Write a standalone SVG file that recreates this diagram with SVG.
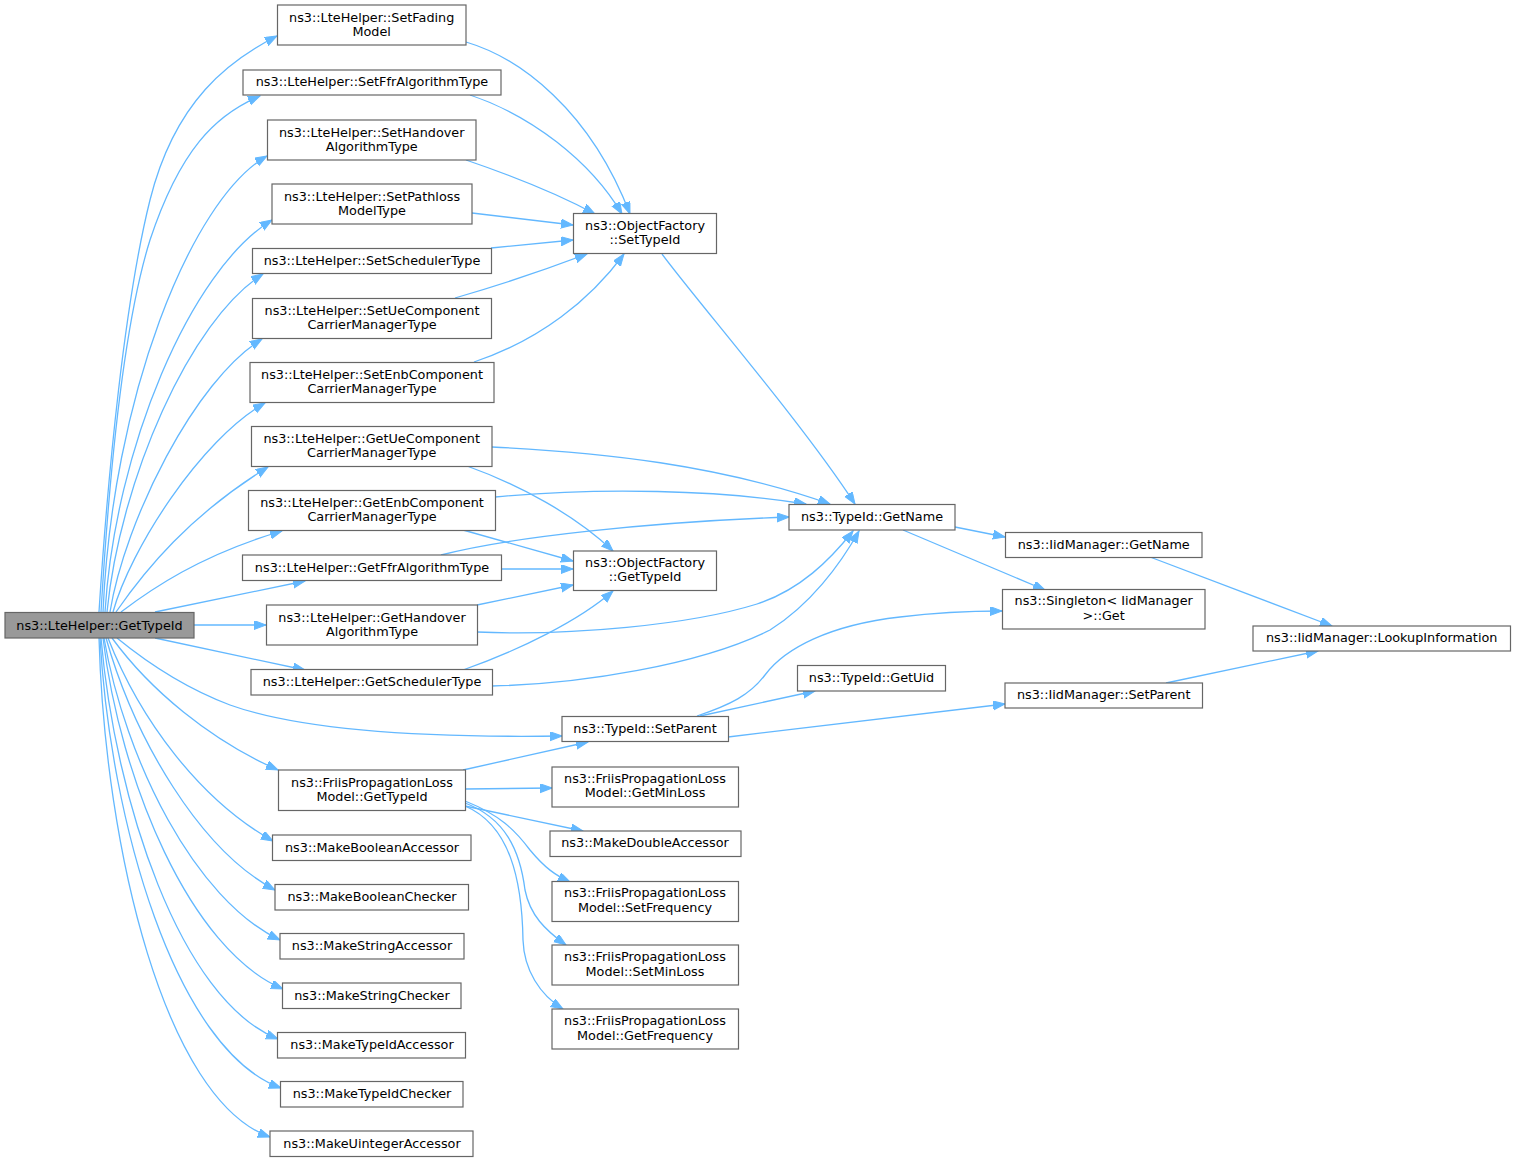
<svg xmlns="http://www.w3.org/2000/svg" width="1516" height="1162" viewBox="0 0 1516 1162">
<style>
.n rect{fill:#ffffff;stroke:#666666;stroke-width:1.2}
.r rect{fill:#999999;stroke:#666666;stroke-width:1.2}
text{font-family:"DejaVu Sans","Liberation Sans",sans-serif;font-size:12.8px;fill:#000000;text-anchor:middle}
#edges path{fill:none;stroke:#63b8ff;stroke-width:1.3;marker-end:url(#a)}
</style>
<defs>
<marker id="a" markerUnits="userSpaceOnUse" markerWidth="13" markerHeight="10" refX="12" refY="4.5" orient="auto">
<path d="M0,0 L12,4.5 L0,9 Z" fill="#63b8ff" stroke="#63b8ff" stroke-width="1"/>
</marker>
</defs>
<rect width="1516" height="1162" fill="#ffffff"/>
<g id="edges">
<path d="M99,612 C108,470 125,300 150,200 C175,100 230,60 277,36"/>
<path d="M101,612 C110,460 125,320 150,240 C180,150 215,115 260,96"/>
<path d="M103,612 C112,400 190,200 267,156"/>
<path d="M105,612 C115,450 190,270 272,220"/>
<path d="M107,612 C120,480 190,320 263,274"/>
<path d="M110,612 C125,520 195,380 262,339"/>
<path d="M113,612 C130,550 200,440 265,403"/>
<path d="M116,612 C145,570 190,515 268,467"/>
<path d="M121,612 C150,590 200,555 282,531"/>
<path d="M155,612 L305,581"/>
<path d="M194,625 L266,625"/>
<path d="M155,638 L305,670"/>
<path d="M117,638 C150,665 185,688 230,705 C300,730 420,738 562,736"/>
<path d="M112,638 C150,690 210,740 278,770"/>
<path d="M108,638 C140,720 200,800 273,841"/>
<path d="M106,638 C135,740 200,850 275,890"/>
<path d="M104,638 C125,760 195,900 280,940"/>
<path d="M103,638 C120,780 190,950 283,989"/>
<path d="M101,638 C115,800 180,1000 278,1039"/>
<path d="M100,638 C110,820 175,1050 281,1088"/>
<path d="M99,638 C105,850 165,1100 270,1137"/>
<path d="M466,42 C520,58 590,110 630,214"/>
<path d="M470,95 C530,115 590,160 622,214"/>
<path d="M466,160 C510,175 560,195 595,214"/>
<path d="M472,213 L573,225"/>
<path d="M491,248 L573,240"/>
<path d="M455,298 C500,285 550,268 587,254"/>
<path d="M474,362 C540,340 590,300 624,254"/>
<path d="M662,254 C700,305 800,420 855,504"/>
<path d="M492,447 C600,452 720,465 830,504"/>
<path d="M495,497 C600,487 720,490 806,504"/>
<path d="M441,555 C510,537 650,522 789,517"/>
<path d="M477,632 C570,636 690,625 757,604 C800,590 830,560 853,531"/>
<path d="M492,686 C580,684 700,665 770,630 C810,605 840,565 859,531"/>
<path d="M467,466 C520,485 575,515 613,551"/>
<path d="M463,530 L573,561"/>
<path d="M501,569 L573,569"/>
<path d="M477,605 L573,585"/>
<path d="M463,670 C520,650 580,620 613,591"/>
<path d="M955,527 L1005,537"/>
<path d="M903,530 L1045,590"/>
<path d="M1150,557 L1332,626"/>
<path d="M1166,683 L1318,651"/>
<path d="M697,716 C730,705 750,695 765,675 C785,648 830,625 900,617 C940,612 970,611 1002,611"/>
<path d="M700,716 L815,691"/>
<path d="M728,737 L1005,704"/>
<path d="M463,770 L588,742"/>
<path d="M465,789 L552,788"/>
<path d="M465,806 L583,831"/>
<path d="M465,801 C500,815 515,830 530,850 C545,868 555,875 570,882"/>
<path d="M465,803 C505,818 520,850 525,890 C530,915 545,930 566,945"/>
<path d="M465,806 C510,825 522,880 523,940 C524,970 540,995 563,1009"/>
</g>
<g id="root" class="r"><rect x="5" y="612.5" width="189" height="25.5"/><text x="99.5" y="629.5">ns3::LteHelper::GetTypeId</text></g>
<g id="setFading" class="n"><rect x="277.5" y="5" width="188.5" height="40"/><text x="371.7" y="21.5">ns3::LteHelper::SetFading</text><text x="371.7" y="35.5">Model</text></g>
<g id="setFfr" class="n"><rect x="243" y="70" width="258" height="25"/><text x="372" y="86">ns3::LteHelper::SetFfrAlgorithmType</text></g>
<g id="setHandover" class="n"><rect x="267.5" y="120" width="208.5" height="40"/><text x="371.7" y="136.5">ns3::LteHelper::SetHandover</text><text x="371.7" y="150.5">AlgorithmType</text></g>
<g id="setPathloss" class="n"><rect x="272" y="184" width="200" height="40"/><text x="372" y="200.5">ns3::LteHelper::SetPathloss</text><text x="372" y="214.5">ModelType</text></g>
<g id="setScheduler" class="n"><rect x="252.5" y="248.5" width="239" height="25"/><text x="372" y="265">ns3::LteHelper::SetSchedulerType</text></g>
<g id="setUeCc" class="n"><rect x="252.5" y="298.5" width="239" height="40"/><text x="372" y="315">ns3::LteHelper::SetUeComponent</text><text x="372" y="329">CarrierManagerType</text></g>
<g id="setEnbCc" class="n"><rect x="250" y="362.5" width="244" height="40"/><text x="372" y="379">ns3::LteHelper::SetEnbComponent</text><text x="372" y="393">CarrierManagerType</text></g>
<g id="getUeCc" class="n"><rect x="251.5" y="426.5" width="240.5" height="40"/><text x="371.7" y="443">ns3::LteHelper::GetUeComponent</text><text x="371.7" y="457">CarrierManagerType</text></g>
<g id="getEnbCc" class="n"><rect x="248.5" y="490.5" width="247" height="40"/><text x="372" y="507">ns3::LteHelper::GetEnbComponent</text><text x="372" y="521">CarrierManagerType</text></g>
<g id="getFfr" class="n"><rect x="242.5" y="555" width="259" height="25.5"/><text x="372" y="571.5">ns3::LteHelper::GetFfrAlgorithmType</text></g>
<g id="getHandover" class="n"><rect x="266.5" y="605" width="211" height="40"/><text x="372" y="621.5">ns3::LteHelper::GetHandover</text><text x="372" y="635.5">AlgorithmType</text></g>
<g id="getScheduler" class="n"><rect x="251" y="669.5" width="241.5" height="25.5"/><text x="372" y="686">ns3::LteHelper::GetSchedulerType</text></g>
<g id="friisGetTypeId" class="n"><rect x="278.5" y="770" width="187" height="40.5"/><text x="372" y="786.5">ns3::FriisPropagationLoss</text><text x="372" y="800.5">Model::GetTypeId</text></g>
<g id="makeBoolAcc" class="n"><rect x="272.5" y="835" width="198.5" height="25.5"/><text x="372" y="851.5">ns3::MakeBooleanAccessor</text></g>
<g id="makeBoolChk" class="n"><rect x="275" y="884.5" width="193.5" height="25.5"/><text x="372" y="901">ns3::MakeBooleanChecker</text></g>
<g id="makeStrAcc" class="n"><rect x="280" y="933.5" width="184" height="25.5"/><text x="372" y="950">ns3::MakeStringAccessor</text></g>
<g id="makeStrChk" class="n"><rect x="282.5" y="983" width="178.5" height="25.5"/><text x="372" y="999.5">ns3::MakeStringChecker</text></g>
<g id="makeTidAcc" class="n"><rect x="277.5" y="1032.5" width="188" height="25.5"/><text x="372" y="1049">ns3::MakeTypeIdAccessor</text></g>
<g id="makeTidChk" class="n"><rect x="280.5" y="1081.5" width="182.5" height="25.5"/><text x="372" y="1098">ns3::MakeTypeIdChecker</text></g>
<g id="makeUintAcc" class="n"><rect x="270" y="1131" width="203" height="25.5"/><text x="372" y="1147.5">ns3::MakeUintegerAccessor</text></g>
<g id="ofSetTypeId" class="n"><rect x="573.5" y="213.5" width="143" height="40"/><text x="645" y="229.5">ns3::ObjectFactory</text><text x="645" y="243.5">::SetTypeId</text></g>
<g id="ofGetTypeId" class="n"><rect x="573.5" y="551" width="143" height="39.5"/><text x="645" y="567">ns3::ObjectFactory</text><text x="645" y="581">::GetTypeId</text></g>
<g id="tidSetParent" class="n"><rect x="562" y="716.5" width="166.5" height="25"/><text x="645" y="732.7">ns3::TypeId::SetParent</text></g>
<g id="friisGetMinLoss" class="n"><rect x="552" y="767" width="186.5" height="40"/><text x="645" y="783">ns3::FriisPropagationLoss</text><text x="645" y="797">Model::GetMinLoss</text></g>
<g id="makeDblAcc" class="n"><rect x="550" y="831" width="191" height="25.5"/><text x="645" y="847">ns3::MakeDoubleAccessor</text></g>
<g id="friisSetFreq" class="n"><rect x="552" y="881.5" width="186.5" height="40"/><text x="645" y="897">ns3::FriisPropagationLoss</text><text x="645" y="912">Model::SetFrequency</text></g>
<g id="friisSetMinLoss" class="n"><rect x="552" y="945" width="186.5" height="40"/><text x="645" y="961">ns3::FriisPropagationLoss</text><text x="645" y="976">Model::SetMinLoss</text></g>
<g id="friisGetFreq" class="n"><rect x="552" y="1009" width="186.5" height="40"/><text x="645" y="1025">ns3::FriisPropagationLoss</text><text x="645" y="1040">Model::GetFrequency</text></g>
<g id="tidGetName" class="n"><rect x="789" y="504.5" width="166" height="25.5"/><text x="872" y="521">ns3::TypeId::GetName</text></g>
<g id="tidGetUid" class="n"><rect x="797.5" y="665.5" width="148" height="25.5"/><text x="871.5" y="682">ns3::TypeId::GetUid</text></g>
<g id="iidGetName" class="n"><rect x="1005.5" y="532.5" width="196.5" height="25"/><text x="1103.7" y="549">ns3::IidManager::GetName</text></g>
<g id="singletonGet" class="n"><rect x="1002.5" y="589.5" width="202.5" height="39.5"/><text x="1103.7" y="605">ns3::Singleton&lt; IidManager</text><text x="1103.7" y="619.5">&gt;::Get</text></g>
<g id="iidSetParent" class="n"><rect x="1005" y="683" width="197.5" height="25"/><text x="1103.7" y="699">ns3::IidManager::SetParent</text></g>
<g id="iidLookup" class="n"><rect x="1253" y="626" width="257.5" height="25"/><text x="1381.7" y="642">ns3::IidManager::LookupInformation</text></g>
</svg>
